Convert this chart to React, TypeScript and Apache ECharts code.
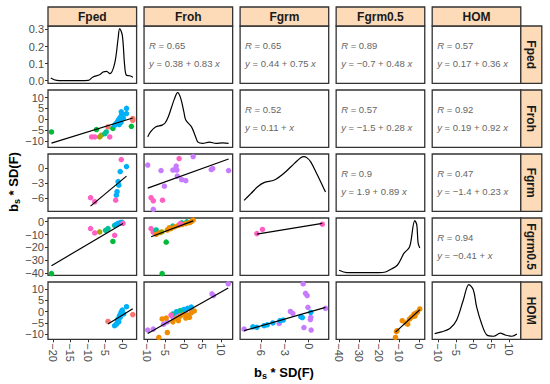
import React, { useEffect, useRef } from 'react';
import * as echarts from 'echarts';

const FONT = '"Liberation Sans", Arial, Helvetica, sans-serif';

const variables = ['Fped', 'Froh', 'Fgrm', 'Fgrm0.5', 'HOM'];
const groupColors = ['#F8766D', '#A3A500', '#00BA38', '#00BF96', '#00B0F6', '#C77CFF', '#FF61C3', '#F08C00'];

const xRanges = [[-21.4, 4.0], [-10.8, 13.2], [-8.6, 2.5], [-41.5, 3.0], [-11.7, 13.4]];
const yRanges = [[0, 1], [-13.0, 13.5], [-8.6, 2.8], [-41.6, 2.8], [-12.2, 13.1]];
const xTicks = [[-20, -15, -10, -5, 0], [-10, -5, 0, 5, 10], [-6, -3, 0], [-40, -30, -20, -10, 0], [-10, -5, 0, 5, 10]];
const yTicks = [[0, 0.1, 0.2, 0.3], [-10, -5, 0, 5, 10], [-6, -3, 0], [-40, -30, -20, -10, 0], [-10, -5, 0, 5, 10]];

// densities (x, density)
const densFped = [[-20.6, 0.016], [-18.9, 0.002], [-15, 0.0], [-9.9, 0.002], [-8.5, 0.022], [-6.6, 0.035], [-5.6, 0.051], [-4.6, 0.055], [-3.7, 0.041], [-2.3, 0.1], [-1.3, 0.247], [-0.86, 0.305], [-0.1, 0.267], [0.57, 0.09], [1.05, 0.033], [2.0, 0.029], [2.95, 0.02]];
const densFroh = [[-9.8, 0.018], [-9.1, 0.029], [-7.7, 0.041], [-5.9, 0.045], [-5.1, 0.05], [-4.2, 0.065], [-3.4, 0.085], [-2.6, 0.105], [-1.7, 0.12], [-0.9, 0.108], [0.0, 0.075], [0.5, 0.057], [2.05, 0.041], [3.0, 0.022], [3.8, 0.006], [5.1, 0.003], [6.9, 0.006], [8.7, 0.003], [10.5, 0.004], [12.1, 0.003]];
const densFgrm = [[-8.1, 0.032], [-7.25, 0.058], [-6.4, 0.084], [-5.6, 0.1], [-4.3, 0.11], [-3.1, 0.136], [-1.8, 0.174], [-1.0, 0.196], [-0.6, 0.2], [-0.25, 0.196], [0.25, 0.18], [1.1, 0.128], [1.7, 0.09], [2.1, 0.064]];
const densFgrm05 = [[-40, 0.007], [-36.1, 0.0003], [-29.4, 0], [-20.1, 0], [-16.7, 0.002], [-14.2, 0.009], [-10.8, 0.021], [-7.4, 0.055], [-4.9, 0.07], [-4.1, 0.084], [-2.0, 0.147], [-1.0, 0.135], [-0.35, 0.084], [0.5, 0.07]];
const densHOM = [[-11, 0.007], [-9.1, 0.011], [-6.7, 0.019], [-4.8, 0.038], [-2.9, 0.084], [-1.3, 0.12], [-0.06, 0.108], [0.9, 0.068], [2.3, 0.03], [3.8, 0.004], [5.7, 0.001], [7.6, 0.008], [9, 0.004], [10.9, 0.001], [12.3, 0.006]];

// scatter points [x, y, group]
const frohVsFped = [[-20.4, -5.9, 2], [-7.5, -4.8, 2], [-4.2, -3.6, 0], [-8.9, -8.2, 6], [-8.0, -8.2, 6], [-6.6, -8.2, 1], [-6.1, -7.4, 1], [-5.1, -6.7, 3], [-4.7, -5.9, 3], [-3.7, -8.2, 6], [-2.8, -4.3, 2], [-2.3, -2.8, 4], [-1.9, -2.0, 4], [-1.5, -1.2, 4], [-1.2, -0.3, 4], [-0.8, 0.6, 4], [-0.4, 1.5, 4], [-0.1, 2.2, 4], [-0.4, 3.4, 4], [1.1, 5.0, 4], [-1.0, -2.5, 4], [-0.5, -1.5, 4], [0.2, 0.5, 4], [1.1, 2.6, 4], [2.5, -3.3, 2], [2.9, -0.5, 0], [2.9, 0.3, 0]];
const fgrmVsFped = [[-0.4, 1.7, 6], [1.1, 0.3, 4], [-0.7, -0.7, 4], [-1.3, -2.7, 4], [-1.1, -3.4, 4], [-1.6, -4.7, 4], [-1.8, -5.4, 4], [-2.0, -6.4, 6], [-9.2, -5.9, 6], [-8.0, -6.7, 6]];
const fgrm05VsFped = [[-9.2, -5.4, 6], [-8.0, -8.8, 6], [-6.6, -8.0, 1], [-4.9, -6.7, 3], [-4.2, -5.4, 3], [-2.3, -3.0, 3], [-1.8, -2.2, 4], [-1.4, -1.5, 4], [-1.0, -1.2, 4], [-0.6, -0.8, 4], [-0.2, -0.5, 4], [0.1, -1.4, 6], [-2.3, -10.6, 6], [-2.8, -15.4, 2], [-20.4, -40.3, 2]];
const homVsFped = [[-4.2, -4.3, 0], [2.9, -1.3, 0], [1.1, 2.2, 4], [-0.1, 0.7, 4], [-0.5, -0.5, 4], [-0.9, -1.8, 4], [-1.3, -3.2, 4], [-1.8, -5.5, 4], [-2.3, -6.2, 4], [-1.5, -4.0, 4], [-0.3, 0.0, 4], [0.3, -1.0, 4], [-1.1, -4.5, 4], [-0.7, -2.5, 4]];
const fgrmVsFroh = [[-9.8, 0.6, 5], [-6.2, -0.5, 5], [-1.3, 1.9, 6], [2.5, 2.3, 5], [-3.0, -0.4, 5], [-2.4, -0.3, 5], [-2.1, 0.4, 5], [-1.9, -0.4, 5], [-1.8, -1.6, 5], [-0.6, -2.3, 5], [0.5, -2.5, 5], [7.8, -0.1, 5], [7.4, -0.3, 5], [12.1, -0.5, 5], [-5.3, -3.6, 5], [-8.9, -5.9, 6], [-8.3, -6.5, 6], [-5.8, -6.4, 6], [-8.3, -8.2, 5]];
const fgrm05VsFroh = [[-8.9, -5.4, 6], [-8.3, -8.2, 6], [-7.5, -6.5, 3], [-3.0, -3.5, 3], [-0.6, -0.9, 3], [0.8, -0.2, 3], [-6.5, -8.5, 7], [-4.5, -6.5, 7], [-4.0, -4.8, 7], [-2.5, -4.0, 7], [-1.5, -3.0, 7], [-0.5, -2.3, 7], [0.5, -1.5, 7], [1.5, -0.8, 7], [2.5, 1.2, 7], [2.0, 0.0, 7], [-3.5, -5.5, 7], [-7.5, -9.8, 7], [-6.0, -8.0, 1], [-4.8, -15.9, 2], [-5.9, -40.3, 2], [-1.0, -1.5, 6]];
const fgrm05VsFgrm = [[-6.5, -9.3, 6], [-5.8, -6.1, 6], [1.7, -2.0, 6]];
const homVsFroh = [[12.0, 12.3, 5], [7.6, 7.9, 5], [8.0, 7.1, 5], [-9.8, -8.1, 5], [-8.3, -7.7, 5], [-4.5, -4.5, 5], [-3.0, -2.5, 5], [-2.0, -1.5, 5], [-1.0, -0.5, 5], [0.5, 0.5, 5], [1.5, 1.5, 5], [-5.5, -5.5, 5], [-6.8, -11.4, 7], [-4.5, -9.2, 7], [-5.9, -3.2, 7], [-4.8, -2.8, 7], [-3.0, -4.5, 7], [-2.0, -3.0, 7], [-1.0, -2.0, 7], [0.0, -1.0, 7], [1.0, -1.5, 7], [2.0, -0.5, 7], [2.8, 0.3, 7], [-1.5, -4.0, 7], [0.5, -2.8, 7], [1.5, -2.5, 7], [-2.0, 0.0, 4], [0.0, 1.0, 4], [1.0, 1.5, 4], [2.0, 2.0, 4], [-3.0, -1.0, 3], [-1.0, 0.5, 3], [-3.5, -1.5, 6]];
const homVsFgrm = [[-0.7, 12.3, 5], [-0.4, 8.1, 5], [-0.2, 7.1, 5], [-0.1, 1.9, 5], [2.1, 1.5, 5], [-2.3, 0.1, 5], [-2.0, -0.8, 5], [-3.7, -5.2, 5], [-0.6, -7.0, 5], [0.3, -8.1, 5], [0.25, -2.5, 5], [-8.1, -7.7, 5], [0.2, -3.5, 5], [0.25, -0.3, 4], [-1.0, -2.2, 4], [-0.8, -2.6, 4], [-3.2, -3.7, 4], [-3.6, -4.0, 4], [-5.6, -6.2, 4], [-5.2, -5.8, 4], [-7.0, -6.7, 4], [-6.5, -6.9, 4], [-4.5, -5.0, 4]];
const homVsFgrm05 = [[-11.7, -11.4, 7], [-10.9, -8.4, 7], [-11.2, -8.8, 7], [-8.3, -4.0, 7], [-5.6, -5.5, 7], [-4.7, -3.3, 7], [-3.7, -2.4, 7], [-2.5, -1.2, 7], [-1.6, -0.8, 7], [-0.8, -0.3, 7], [0.5, 1.2, 7], [-2.0, -2.0, 7], [-6.5, -5.0, 7]];

// regression fits [intercept, slope]
const fitFrohFped = [-0.9, 0.5];
const fitFgrmFped = [-2.24, 0.58];
const fitFgrm05Fped = [-1.56, 1.6];
const fitHomFped = [-1.47, 0.955];
const fitFgrmFroh = [-1.39, 0.264];
const fitFgrm05Froh = [-2.1, 1.08];
const fitFgrm05Fgrm = [-3.1, 1.02];
const fitHomFroh = [-0.6, 0.918];
const fitHomFgrm = [-0.22, 1.01];
const fitHomFgrm05 = [0.47, 0.81];

// upper-panel statistics
const upperCells = [[0, 1], [0, 2], [0, 3], [0, 4], [1, 2], [1, 3], [1, 4], [2, 3], [2, 4], [3, 4]];
const corrValues = ['0.65', '0.65', '0.89', '0.57', '0.52', '0.57', '0.92', '0.9', '0.47', '0.94'];
const eqIntercepts = ['0.38', '0.44', '−0.7', '0.17', '0.11', '−1.5', '0.19', '1.9', '−1.4', '−0.41'];
const eqSlopes = ['0.83', '0.75', '0.48', '0.36', '', '0.28', '0.92', '0.89', '0.23', ''];

const PW = 88.6;
const PH = 57.3;
const colLeft = (c: number) => 48 + c * 96.05;
const rowTop = (r: number) => 26 + r * 64;

const minus = (s: string) => s.replace('-', '\u2212');

export default function App() {
  const ref = useRef<HTMLDivElement>(null);
  useEffect(() => {
    if (!ref.current) return;
    const chart = echarts.init(ref.current, undefined, { renderer: 'svg' });

    const densities = [densFped, densFroh, densFgrm, densFgrm05, densHOM];
    const lower = [
      { r: 1, c: 0, pts: frohVsFped, fit: fitFrohFped },
      { r: 2, c: 0, pts: fgrmVsFped, fit: fitFgrmFped },
      { r: 3, c: 0, pts: fgrm05VsFped, fit: fitFgrm05Fped },
      { r: 4, c: 0, pts: homVsFped, fit: fitHomFped },
      { r: 2, c: 1, pts: fgrmVsFroh, fit: fitFgrmFroh },
      { r: 3, c: 1, pts: fgrm05VsFroh, fit: fitFgrm05Froh },
      { r: 4, c: 1, pts: homVsFroh, fit: fitHomFroh },
      { r: 3, c: 2, pts: fgrm05VsFgrm, fit: fitFgrm05Fgrm },
      { r: 4, c: 2, pts: homVsFgrm, fit: fitHomFgrm },
      { r: 4, c: 3, pts: homVsFgrm05, fit: fitHomFgrm05 },
    ];

    const grids: any[] = [];
    const xAxes: any[] = [];
    const yAxes: any[] = [];
    const series: any[] = [];
    const graphics: any[] = [];

    for (let r = 0; r < 5; r++) {
      for (let c = 0; c < 5; c++) {
        const gi = r * 5 + c;
        grids.push({
          left: colLeft(c), top: rowTop(r), width: PW, height: PH,
          show: true, borderColor: '#333333', borderWidth: 1.3, backgroundColor: '#ffffff',
          containLabel: false, outerBoundsMode: 'none',
        });
        xAxes.push({
          gridIndex: gi, type: 'value', min: xRanges[c][0], max: xRanges[c][1], position: 'bottom',
          axisLine: { show: false, onZero: false }, splitLine: { show: false },
          axisTick: { show: r === 4, length: 3, lineStyle: { color: '#333333', width: 1 }, customValues: xTicks[c] },
          axisLabel: {
            show: r === 4, customValues: xTicks[c], rotate: -90, margin: 4,
            color: '#4d4d4d', fontSize: 11, fontFamily: FONT,
            formatter: (v: number) => minus(String(v)),
          },
        });
        let ymin = 0, ymax = 1;
        if (r === c) {
          const m = Math.max(...densities[r].map((p) => p[1]));
          ymin = -0.05 * m; ymax = 1.05 * m;
        } else if (r > c) {
          ymin = yRanges[r][0]; ymax = yRanges[r][1];
        }
        yAxes.push({
          gridIndex: gi, type: 'value', min: ymin, max: ymax, position: 'left',
          axisLine: { show: false, onZero: false }, splitLine: { show: false },
          axisTick: { show: c === 0, length: 3, lineStyle: { color: '#333333', width: 1 }, customValues: yTicks[r] },
          axisLabel: {
            show: c === 0, customValues: yTicks[r], margin: 4,
            color: '#4d4d4d', fontSize: 11, fontFamily: FONT,
            formatter: (v: number) => (r === 0 ? v.toFixed(1) : minus(String(v))),
          },
        });
        if (r === c) {
          series.push({
            type: 'line', xAxisIndex: gi, yAxisIndex: gi, data: densities[r],
            smooth: 0.35, symbol: 'none', lineStyle: { color: '#000000', width: 1.2 }, z: 3,
          });
        }
      }
    }

    lower.forEach((p) => {
      const gi = p.r * 5 + p.c;
      series.push({
        type: 'scatter', xAxisIndex: gi, yAxisIndex: gi, data: p.pts, symbolSize: 5.5,
        itemStyle: { color: (d: any) => groupColors[d.value[2]], opacity: 1 }, z: 2,
      });
      const xs = p.pts.map((q) => q[0]);
      const x0 = Math.min(...xs), x1 = Math.max(...xs);
      series.push({
        type: 'line', xAxisIndex: gi, yAxisIndex: gi, symbol: 'none',
        data: [[x0, p.fit[0] + p.fit[1] * x0], [x1, p.fit[0] + p.fit[1] * x1]],
        lineStyle: { color: '#000000', width: 1.2 }, z: 3,
      });
    });

    upperCells.forEach(([r, c], k) => {
      const x = colLeft(c) + 5;
      const y = rowTop(r);
      graphics.push({
        type: 'text', x, y: y + 19, z: 10,
        style: {
          text: `{i|R} = ${corrValues[k]}`,
          rich: { i: { fontStyle: 'italic', fontSize: 9.5, fontFamily: FONT, fill: '#666666', color: '#666666' } },
          font: `9.5px ${FONT}`, fill: '#666666', align: 'left', verticalAlign: 'middle',
          textAlign: 'left', textVerticalAlign: 'middle',
        },
      });
      const slope = eqSlopes[k] ? `${eqSlopes[k]} ` : '';
      graphics.push({
        type: 'text', x, y: y + 37, z: 10,
        style: {
          text: `{i|y} = ${eqIntercepts[k]} + ${slope}{i|x}`,
          rich: { i: { fontStyle: 'italic', fontSize: 9.5, fontFamily: FONT, fill: '#666666', color: '#666666' } },
          font: `9.5px ${FONT}`, fill: '#666666', align: 'left', verticalAlign: 'middle',
          textAlign: 'left', textVerticalAlign: 'middle',
        },
      });
    });

    for (let c = 0; c < 5; c++) {
      graphics.push({
        type: 'rect', z: 10,
        shape: { x: colLeft(c), y: 7, width: PW, height: 19 },
        style: { fill: '#FDDAB8', stroke: '#333333', lineWidth: 1.3 },
      });
      graphics.push({
        type: 'text', x: colLeft(c) + PW / 2, y: 16.5, z: 11,
        style: {
          text: variables[c], font: `bold 12px ${FONT}`, fill: '#1a1a1a',
          align: 'center', verticalAlign: 'middle', textAlign: 'center', textVerticalAlign: 'middle',
        },
      });
    }
    for (let r = 0; r < 5; r++) {
      graphics.push({
        type: 'rect', z: 10,
        shape: { x: colLeft(4) + PW, y: rowTop(r), width: 21, height: PH },
        style: { fill: '#FDDAB8', stroke: '#333333', lineWidth: 1.3 },
      });
      graphics.push({
        type: 'text', x: colLeft(4) + PW + 10.5, y: rowTop(r) + PH / 2, z: 11, rotation: -Math.PI / 2,
        style: {
          text: variables[r], font: `bold 12px ${FONT}`, fill: '#1a1a1a',
          align: 'center', verticalAlign: 'middle', textAlign: 'center', textVerticalAlign: 'middle',
        },
      });
    }

    const titleRich = {
      b: { fontSize: 13, fontWeight: 'bold', fontFamily: FONT, fill: '#000', color: '#000' },
      s: { fontSize: 9, fontWeight: 'bold', fontFamily: FONT, fill: '#000', color: '#000', padding: [7, 0, 0, 0] },
    };
    graphics.push({
      type: 'text', x: 284, y: 372, z: 11,
      style: {
        text: '{b|b}{s|s}{b| * SD(F)}', rich: titleRich, font: `bold 13px ${FONT}`,
        align: 'center', verticalAlign: 'middle', textAlign: 'center', textVerticalAlign: 'middle',
      },
    });
    graphics.push({
      type: 'text', x: 13, y: 182, z: 11, rotation: Math.PI / 2,
      style: {
        text: '{b|b}{s|s}{b| * SD(F)}', rich: titleRich, font: `bold 13px ${FONT}`,
        align: 'center', verticalAlign: 'middle', textAlign: 'center', textVerticalAlign: 'middle',
      },
    });

    chart.setOption({
      animation: false,
      backgroundColor: '#ffffff',
      grid: grids,
      xAxis: xAxes,
      yAxis: yAxes,
      series,
      graphic: { elements: graphics },
    });
    return () => chart.dispose();
  }, []);

  return <div ref={ref} style={{ position: 'absolute', left: 0, top: 0, width: 550, height: 384 }} />;
}
